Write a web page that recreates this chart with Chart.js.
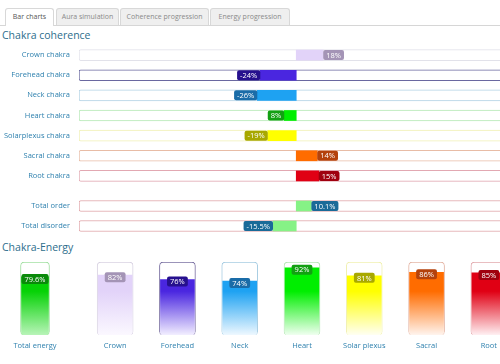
<!DOCTYPE html>
<html>
<head>
<meta charset="utf-8">
<script src="https://cdn.jsdelivr.net/npm/chart.js@4.4.1/dist/chart.umd.min.js"></script>
<style>
  html, body { margin: 0; padding: 0; width: 500px; height: 364px; overflow: hidden; background: #fff; font-family: "Open Sans", sans-serif; }
  .tabs { position: absolute; left: 0; top: 0; width: 500px; height: 25px; border-bottom: 1px solid #d6d6d6; }
  .tab { position: absolute; top: 8px; height: 16px; line-height: 16px; font-size: 7px; color: #8a8a8a; text-align: center;
         background: #efefef; border: 1px solid #d8d8d8; border-bottom: none; border-radius: 3px 3px 0 0; }
  .tab.active { background: #fff; color: #555; height: 17px; }
  .title { position: absolute; left: 2px; font-size: 10.5px; color: #2d6e8c; }
  .box { position: absolute; left: 0; }
</style>
</head>
<body>
<div class="tabs">
  <div class="tab active" style="left:5px;width:47px">Bar charts</div>
  <div class="tab" style="left:56px;width:61px">Aura simulation</div>
  <div class="tab" style="left:120px;width:87px">Coherence progression</div>
  <div class="tab" style="left:210px;width:78px">Energy progression</div>
</div>
<div class="title" style="top:28px">Chakra coherence</div>
<div class="box" style="top:45px;width:500px;height:141px"><canvas id="coherence"></canvas></div>
<div class="box" style="top:196px;width:500px;height:40px"><canvas id="totals"></canvas></div>
<div class="title" style="top:240px">Chakra-Energy</div>
<div class="box" style="top:255px;width:70px;height:105px"><canvas id="totalEnergy"></canvas></div>
<div class="box" style="top:255px;left:84px;width:436px;height:105px"><canvas id="energy"></canvas></div>
<script>
// 「Chakra coherence」data
const chakraLabels = ['Crown chakra', 'Forehead chakra', 'Neck chakra', 'Heart chakra', 'Solarplexus chakra', 'Sacral chakra', 'Root chakra'];
const coherenceValues = [18, -24, -26, -8, -19, 14, 15];
const coherenceText = ['18%', '-24%', '-26%', '8%', '-19%', '14%', '15%'];
const totalLabels = ['Total order', 'Total disorder'];
const totalValues = [10.1, -15.5];
const totalText = ['10.1%', '-15.5%'];

// 「Chakra-Energy」data
const totalEnergyLabel = ['Total energy'];
const totalEnergyValue = [79.6];
const energyLabels = ['Crown', 'Forehead', 'Neck', 'Heart', 'Solar plexus', 'Sacral', 'Root'];
const energyValues = [82, 76, 74, 92, 81, 86, 85];

// colours
const barColors = ['#e2d3f9', '#4a26e0', '#1ea2f2', '#00ee00', '#ffff00', '#ff6c00', '#e00014'];
const boxColors = ['#a494b6', '#26108e', '#1a6ca8', '#12a012', '#a8a800', '#b4420c', '#a0000e'];
const trackColors = ['#e2e2ea', '#6a68a0', '#b2d2e4', '#b4e8b4', '#f0f0b4', '#e8bca6', '#e2a8b2'];
const fadeColors = ['#fbf8ff', '#f2eeff', '#eef8ff', '#f0fff0', '#fffff2', '#fff4ee', '#fff0f2'];
const totalBarColor = '#86f286';
const totalBoxColor = '#1a6a98';
const totalTrackColor = '#e0a4a8';

const labelFont = { family: '"Open Sans", sans-serif', size: 7.5 };
const labelColor = '#2e80ae';

// value boxes (rounded label at bar end)
const boxPlugin = {
  id: 'valueBoxes',
  afterDatasetsDraw(chart, args, opts) {
    const meta = chart.getDatasetMeta(opts.dataset);
    const c = chart.ctx;
    c.save();
    c.font = '7.5px "Open Sans", sans-serif';
    meta.data.forEach((bar, i) => {
      const text = opts.texts[i];
      const w = c.measureText(text).width + 6, h = 10;
      let x, y;
      if (opts.horizontal) {
        x = bar.x < bar.base ? bar.x - w : bar.x;
        y = bar.y - h / 2;
      } else {
        x = bar.x - w / 2;
        y = bar.y - 3;
      }
      c.fillStyle = opts.colors[i];
      c.beginPath();
      c.roundRect(x, y, w, h, 2);
      c.fill();
      c.fillStyle = '#fff';
      c.textAlign = 'center';
      c.textBaseline = 'middle';
      c.fillText(text, x + w / 2, y + h / 2 + 0.5);
    });
    c.restore();
  }
};

function hbarChart(id, labels, values, texts, colors, boxes, tracks) {
  return new Chart(document.getElementById(id), {
    type: 'bar',
    data: {
      labels: labels,
      datasets: [
        { data: values, backgroundColor: colors, barThickness: 10, order: 1 },
        { data: labels.map(() => [-145, 150]), backgroundColor: '#fff', borderColor: tracks,
          borderWidth: 1, borderRadius: 2, borderSkipped: false, barThickness: 11, order: 2 }
      ]
    },
    options: {
      indexAxis: 'y',
      responsive: true, maintainAspectRatio: false, animation: false,
      layout: { padding: 0 },
      datasets: { bar: { grouped: false } },
      scales: {
        x: { display: false, min: -145, max: 136 },
        y: { afterFit: s => { s.width = 79; s.paddingTop = 0; s.paddingBottom = 0; },
             grid: { display: false, drawTicks: false }, border: { display: false },
             ticks: { padding: 9, color: labelColor, font: labelFont } }
      },
      plugins: {
        legend: { display: false }, tooltip: { enabled: false },
        valueBoxes: { dataset: 0, texts: texts, colors: boxes, horizontal: true }
      }
    },
    plugins: [boxPlugin]
  });
}

hbarChart('coherence', chakraLabels, coherenceValues, coherenceText, barColors, boxColors, trackColors);
hbarChart('totals', totalLabels, totalValues, totalText,
  totalLabels.map(() => totalBarColor), totalLabels.map(() => totalBoxColor), totalLabels.map(() => totalTrackColor));

function fade(top, bottom) {
  return ctx => {
    const ca = ctx.chart.chartArea;
    if (!ca) return top[ctx.dataIndex];
    const g = ctx.chart.ctx.createLinearGradient(0, ca.top, 0, ca.bottom);
    g.addColorStop(0, top[ctx.dataIndex]);
    g.addColorStop(0.4, top[ctx.dataIndex]);
    g.addColorStop(1, bottom[ctx.dataIndex]);
    return g;
  };
}

function vbarChart(id, labels, values, tops, bottoms, borders, boxes, thick) {
  return new Chart(document.getElementById(id), {
    type: 'bar',
    data: {
      labels: labels,
      datasets: [
        { data: values, backgroundColor: fade(tops, bottoms), barThickness: thick - 2,
          borderRadius: { bottomLeft: 3, bottomRight: 3 }, borderSkipped: false, order: 1 },
        { data: labels.map(() => 100), backgroundColor: '#fff', borderColor: borders,
          borderWidth: 1, borderRadius: 4, borderSkipped: false, barThickness: thick, order: 2 }
      ]
    },
    options: {
      responsive: true, maintainAspectRatio: false, animation: false,
      layout: { padding: { top: 7 } },
      datasets: { bar: { grouped: false } },
      scales: {
        y: { display: false, min: 0, max: 100 },
        x: { afterFit: s => { s.height = 25; },
             grid: { display: false, drawTicks: false }, border: { display: false },
             ticks: { padding: 6, color: labelColor, font: labelFont, maxRotation: 0 } }
      },
      plugins: {
        legend: { display: false }, tooltip: { enabled: false },
        valueBoxes: { dataset: 0, texts: values.map(v => v + '%'), colors: boxes, horizontal: false }
      }
    },
    plugins: [boxPlugin]
  });
}

vbarChart('totalEnergy', totalEnergyLabel, totalEnergyValue, ['#06d206'], ['#b8f4b8'], ['#a2e0a2'], ['#0a8a0a'], 29);
vbarChart('energy', energyLabels, energyValues, barColors, fadeColors,
  ['#d8d2e2', '#7a70a2', '#a6cce2', '#b4e6b4', '#f0f0b0', '#e4b6a6', '#e2a8ac'], boxColors, 36);
</script>
</body>
</html>
